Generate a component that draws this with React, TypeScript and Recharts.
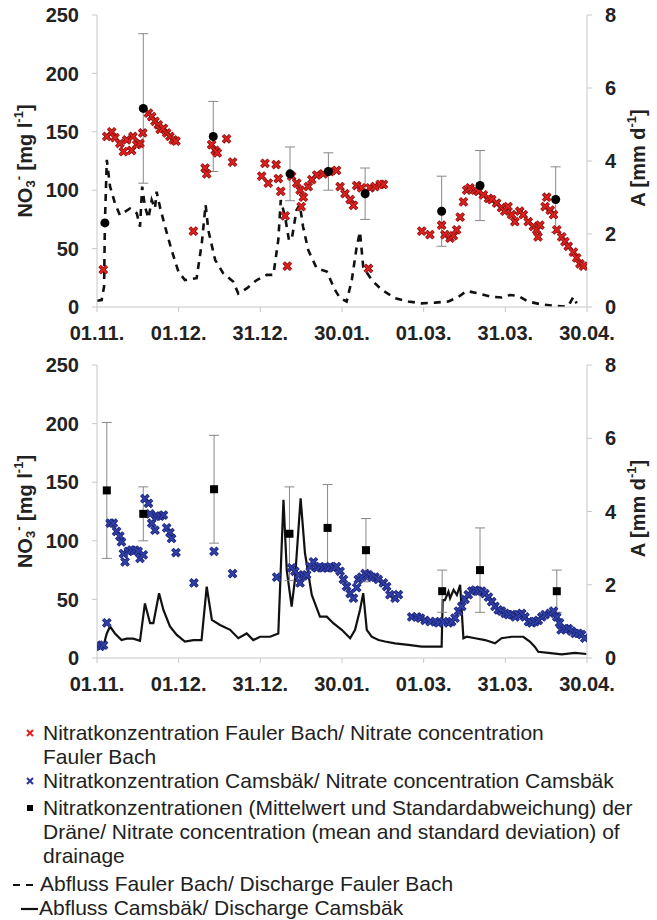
import React from 'react';
import { ComposedChart, Scatter, Line, XAxis, YAxis, ErrorBar } from 'recharts';

// x = days since 01.11.
const DAY_TICKS = [0, 30, 60, 90, 120, 150, 180];
const DATE_LABELS = ['01.11.', '01.12.', '31.12.', '30.01.', '01.03.', '31.03.', '30.04.'];
const NO3_TICKS = [0, 50, 100, 150, 200, 250];
const A_TICKS = [0, 2, 4, 6, 8];

// Fauler Bach: nitrate [day, mg/l]
const fbNitrate = [
  [2.3, 32], [3.6, 146], [5.4, 150], [6.6, 145], [8.4, 140], [9.7, 133], [10.9, 143], [12.7, 134], [13.2, 146],
  [14.6, 139], [15.8, 140], [16.8, 149], [18.9, 166], [20.1, 163], [21.3, 159], [22.5, 156], [23.2, 152],
  [24.4, 153], [25.6, 149], [26.8, 146], [28, 143], [29, 142], [35.4, 65], [39.7, 119], [40.3, 114],
  [42.1, 139], [43.4, 134], [44.2, 132], [47.6, 144], [49.8, 124], [60.5, 112], [61.7, 123], [62.9, 106],
  [65.8, 122], [66.6, 110], [67.5, 99], [69.1, 78], [69.9, 35], [71.5, 112], [73.4, 106], [74.6, 100],
  [75, 86], [75.8, 94], [77.6, 103], [78.9, 109], [80.7, 113], [83.1, 114], [85.6, 116], [88, 117],
  [89.3, 103], [91.1, 97], [93, 92], [94.2, 87], [95.4, 104], [97.2, 102], [99.7, 33], [100.3, 102],
  [102.1, 103], [104, 105], [105.2, 105], [119.3, 65], [122.3, 62], [126.6, 70], [127.8, 62], [129.7, 59],
  [130.9, 61], [132.1, 66], [133.4, 77], [134.6, 90], [135.8, 100], [137, 102], [138.9, 100], [140.1, 99],
  [141.9, 96], [143.8, 93], [145, 92], [146.8, 89], [148.6, 85], [149.8, 82], [151, 86], [152.3, 79],
  [153.5, 73], [155.3, 82], [156.6, 79], [158.4, 73], [160.3, 69], [161.5, 66], [162, 60], [162.7, 70],
  [164.6, 86], [165.2, 94], [166.5, 83], [167.7, 79], [168.9, 66], [170.7, 60], [171.9, 56], [173.1, 52],
  [175, 47], [176.2, 42], [177.4, 37], [178.7, 35],
];

// Fauler Bach: discharge [day, mm/d]
const fbDischarge = [
  [0, 0.17], [1.7, 0.19], [2.6, 0.56], [2.9, 2.3], [3.6, 4.03], [4.8, 3.3], [6.6, 2.84], [8.4, 2.52],
  [12.1, 2.7], [14.6, 2.57], [15.8, 2.2], [16.6, 3.3], [17.6, 2.75], [18.9, 2.43], [20.1, 2.93], [21.3, 2.7],
  [21.9, 3.16], [23.1, 2.75], [25, 2.2], [27.4, 1.56], [29.9, 0.97], [32.3, 0.74], [36.6, 0.79], [38.5, 1.75],
  [39.9, 2.8], [40.9, 2.1], [43.4, 1.29], [46.4, 0.92], [50.1, 0.69], [51.9, 0.37], [55, 0.51], [58.7, 0.74],
  [62.4, 0.88], [64.8, 0.88], [66.6, 1.84], [67.5, 2.93], [69.1, 2.47], [70.5, 1.84], [71.5, 1.84],
  [73.3, 2.66], [74.5, 2.8], [75.7, 2.2], [77.6, 1.56], [80.7, 1.06], [84.4, 0.97], [87.4, 0.47],
  [89.3, 0.24], [91.7, 0.15], [93.6, 0.74], [95.4, 1.65], [96.6, 2.06], [97.8, 1.1], [100.9, 0.74],
  [104.6, 0.47], [109.5, 0.24], [114.4, 0.15], [119.3, 0.1], [124.2, 0.12], [129.1, 0.15], [132.8, 0.28],
  [135.8, 0.44], [140.1, 0.37], [145, 0.28], [148.7, 0.26], [151.7, 0.33], [154.8, 0.3], [158.4, 0.15],
  [163.3, 0.07], [168.3, 0.03], [172, 0.01], [173.3, 0.05], [175, 0.28], [176.2, 0.1],
];

// drainage under Fauler Bach: day, mean, sd
const fbDrainDays = [2.9, 17, 42.7, 70.9, 85, 98.5, 126.6, 140.7, 168.5];
const fbDrainMean = [72, 170, 146, 114, 116, 97, 82, 104, 92];
const fbDrainSd = [0, 64, 30, 23, 16, 22, 30, 30, 28];

// Camsbäk: nitrate [day, mg/l]
const cbNitrate = [
  [0, 11], [1.2, 10], [2.4, 11], [3.6, 30], [4.8, 115], [6, 115], [7.2, 108], [8.4, 104], [9, 99], [9.7, 89],
  [10.3, 82], [11.5, 91], [12.7, 92], [13.9, 92], [15.1, 91], [15.8, 85], [17, 88], [17.6, 136], [18.9, 132],
  [19.5, 123], [20.1, 115], [21.3, 109], [21.9, 121], [23.1, 121], [24.4, 122], [25.6, 111], [26.8, 107],
  [27.4, 102], [29, 90], [35.6, 64], [43, 91], [49.8, 72], [66, 69], [71.5, 77], [72.7, 74], [74, 71],
  [74.6, 64], [75.8, 70], [77, 71], [78.3, 78], [79.5, 82], [80.7, 77], [81.9, 78], [83.1, 77], [84.4, 77],
  [85.6, 78], [86.8, 77], [88, 78], [89.3, 74], [90.5, 67], [91.7, 61], [93, 55], [94.2, 51], [95.4, 60],
  [96, 67], [97.2, 69], [98.5, 72], [99.7, 71], [100.9, 69], [102.1, 69], [103.3, 67], [105.2, 64],
  [106.4, 61], [107.6, 54], [109.5, 51], [110.7, 54], [115.6, 35], [117.5, 35], [118.8, 34], [120.5, 32],
  [122.4, 31], [124.2, 31], [125.4, 30], [127.3, 31], [129.1, 30], [130.3, 31], [131.5, 34], [132.8, 40],
  [134, 44], [135.2, 50], [136.4, 54], [137.7, 57], [138.9, 58], [140.1, 57], [141.3, 57], [142.5, 55],
  [143.8, 52], [145, 48], [146.2, 44], [147.4, 41], [148.6, 40], [149.9, 38], [151.1, 37], [152.3, 37],
  [153.6, 35], [154.8, 37], [156, 38], [157.2, 35], [158.5, 31], [159.7, 30], [160.9, 31], [162.1, 32],
  [163.4, 35], [164.6, 37], [166.4, 38], [167.7, 40], [168.9, 35], [169.9, 30], [170.5, 24], [171.9, 25],
  [173.1, 25], [174.3, 23], [175.6, 21], [176.8, 21], [178, 20], [179.2, 17],
];

// Camsbäk: discharge [day, mm/d]
const cbDischarge = [
  [0, 0.31], [2.3, 0.31], [3.6, 0.67], [4.8, 0.86], [6.6, 0.67], [9, 0.49], [10.9, 0.53], [13.3, 0.53],
  [15.8, 0.47], [17.6, 1.49], [19.5, 0.95], [20.7, 0.95], [22.8, 1.77], [24.4, 1.31], [26.8, 0.86],
  [29.3, 0.63], [32.3, 0.45], [35.4, 0.49], [38.4, 0.49], [40.3, 1.95], [42.2, 1.04], [45.2, 0.9],
  [48.9, 0.77], [51.9, 0.54], [55, 0.67], [57.4, 0.49], [59.9, 0.58], [63.6, 0.58], [66.6, 0.67],
  [68.5, 4.32], [69.7, 2.4], [71.5, 1.4], [72.7, 2.13], [74.8, 4.36], [76.4, 2.86], [78.9, 1.72],
  [81.9, 1.13], [84.4, 1.13], [86.8, 0.95], [89.9, 0.77], [93, 0.54], [94.8, 0.77], [96.6, 1.31],
  [97.8, 1.77], [99.1, 0.77], [100.9, 0.58], [103.4, 0.49], [105.8, 0.45], [109.5, 0.4], [114.4, 0.36],
  [119.3, 0.31], [124.2, 0.31], [126.6, 0.31], [127, 1.58], [127.8, 1.58], [129.1, 1.81], [129.7, 1.63],
  [131, 1.86], [132.2, 1.72], [133.4, 2.0], [134.6, 0.54], [135.8, 0.58], [138.9, 0.54], [142.6, 0.49],
  [146.2, 0.4], [148.6, 0.54], [152.3, 0.58], [156.6, 0.58], [159, 0.45], [160.8, 0.31], [162.1, 0.17],
  [165.8, 0.14], [170.7, 0.1], [175.6, 0.14], [179.8, 0.11],
];

// drainage under Camsbäk
const cbDrainDays = [3.6, 17, 43, 70.7, 84.7, 98.8, 126.8, 140.7, 168.9];
const cbDrainMean = [143, 123, 144, 106, 111, 92, 57, 75, 57];
const cbDrainSd = [58, 23, 46, 40, 37, 27, 18, 36, 18];

const FONT = '"Liberation Sans", Arial, sans-serif';
const AXIS_GRAY = '#c8c8c8';
const TEXT = '#222';

const tickStyle = { fontSize: 20, fontWeight: 700, fill: TEXT, fontFamily: FONT };

function XMark({ cx, cy, color, edge }: any) {
  if (cx == null || cy == null) return null;
  const s = 3.6;
  const d = `M${cx - s},${cy - s}L${cx + s},${cy + s}M${cx - s},${cy + s}L${cx + s},${cy - s}`;
  return (
    <g>
      <path d={d} stroke={edge} strokeWidth={3.6} fill="none" />
      <path d={d} stroke={color} strokeWidth={2} fill="none" />
    </g>
  );
}

function LeftTitle({ viewBox }: any) {
  const x = viewBox.x + 15;
  const y = viewBox.y + viewBox.height / 2;
  return (
    <text x={x} y={y} transform={`rotate(-90, ${x}, ${y})`} textAnchor="middle" dominantBaseline="central"
      fontFamily={FONT} fontSize={20} fontWeight={700} fill={TEXT}>
      NO<tspan fontSize={13} dy={5}>3</tspan><tspan fontSize={13} dy={-12}>-</tspan>
      <tspan dy={7}> [mg l</tspan><tspan fontSize={13} dy={-7}>-1</tspan><tspan dy={7}>]</tspan>
    </text>
  );
}

function RightTitle({ viewBox }: any) {
  const x = viewBox.x + 51;
  const y = viewBox.y + viewBox.height / 2 - 3;
  return (
    <text x={x} y={y} transform={`rotate(-90, ${x}, ${y})`} textAnchor="middle" dominantBaseline="central"
      fontFamily={FONT} fontSize={20} fontWeight={700} fill={TEXT}>
      A [mm d<tspan fontSize={13} dy={-7}>-1</tspan><tspan dy={7}>]</tspan>
    </text>
  );
}

function Panel({ nitrate, nitrateColor, nitrateEdge, discharge, dashed, drainDays, drainMean, drainSd, squares, height, bottom }: any) {
  const nData = nitrate.map(([day, v]: number[]) => ({ day, v }));
  const qData = discharge.map(([day, a]: number[]) => ({ day, a }));
  const dData = drainDays.map((day: number, i: number) => ({ day, v: drainMean[i], sd: drainSd[i] }));
  return (
    <ComposedChart width={657} height={height} margin={{ top: 15, right: 8, bottom, left: 10 }}>
      <XAxis type="number" dataKey="day" domain={[0, 180]} ticks={DAY_TICKS} interval={0} allowDataOverflow
        tickFormatter={(v) => DATE_LABELS[DAY_TICKS.indexOf(v)]} height={30}
        tick={tickStyle} tickSize={5} tickMargin={14} stroke={AXIS_GRAY} />
      <YAxis yAxisId="left" domain={[0, 250]} ticks={NO3_TICKS} width={87} allowDataOverflow
        tick={tickStyle} tickSize={5} tickMargin={13} stroke={AXIS_GRAY} label={<LeftTitle />} />
      <YAxis yAxisId="right" orientation="right" domain={[0, 8]} ticks={A_TICKS} width={62} allowDataOverflow
        tick={tickStyle} tickSize={5} tickMargin={13} stroke={AXIS_GRAY} label={<RightTitle />} />
      <Line yAxisId="right" data={qData} dataKey="a" type="linear" stroke="#111" strokeWidth={dashed ? 2.6 : 2.2}
        strokeDasharray={dashed ? '7 6' : undefined} dot={false} activeDot={false} isAnimationActive={false} />
      <Scatter yAxisId="left" data={nData} dataKey="v" isAnimationActive={false}
        shape={(p: any) => <XMark cx={p.cx} cy={p.cy} color={nitrateColor} edge={nitrateEdge} />} />
      <Scatter yAxisId="left" data={dData} dataKey="v" isAnimationActive={false}
        shape={(p: any) => squares
          ? <rect x={p.cx - 4} y={p.cy - 4} width={8} height={8} fill="#000" />
          : <circle cx={p.cx} cy={p.cy} r={4.5} fill="#000" />}>
        <ErrorBar dataKey="sd" direction="y" width={5} stroke="#888" strokeWidth={1} />
      </Scatter>
    </ComposedChart>
  );
}

function Mark({ kind }: { kind: string }) {
  if (kind === 'red' || kind === 'blue') {
    const c = kind === 'red' ? '#e0201c' : '#2b3595';
    return (
      <svg width="10" height="10" style={{ position: 'absolute', left: 25, top: 7 }}>
        <path d="M2,2L8,8M2,8L8,2" stroke={c} strokeWidth={2} />
      </svg>
    );
  }
  if (kind === 'square') {
    return <div style={{ position: 'absolute', left: 27, top: 9, width: 6, height: 6, background: '#000' }} />;
  }
  if (kind === 'dash') {
    return (
      <svg width="30" height="6" style={{ position: 'absolute', left: 12, top: 10 }}>
        <path d="M1,3H8M14,3H21" stroke="#111" strokeWidth={2} />
      </svg>
    );
  }
  return (
    <svg width="30" height="6" style={{ position: 'absolute', left: 12, top: 10 }}>
      <path d="M9,3H26" stroke="#111" strokeWidth={2.2} />
    </svg>
  );
}

const legendItems = [
  { kind: 'red', top: 721, left: 43, lines: ['Nitratkonzentration Fauler Bach/ Nitrate concentration', 'Fauler Bach'] },
  { kind: 'blue', top: 769, left: 43, lines: ['Nitratkonzentration Camsbäk/ Nitrate concentration Camsbäk'] },
  { kind: 'square', top: 796, left: 43, lines: ['Nitratkonzentrationen (Mittelwert und Standardabweichung) der', 'Dräne/ Nitrate concentration (mean and standard deviation) of', 'drainage'] },
  { kind: 'dash', top: 872, left: 40, lines: ['Abfluss Fauler Bach/ Discharge Fauler Bach'] },
  { kind: 'solid', top: 896, left: 39, lines: ['Abfluss Camsbäk/ Discharge Camsbäk'] },
];

export default function App() {
  return (
    <div style={{ position: 'absolute', left: 0, top: 0, width: 657, height: 920, background: '#fff', overflow: 'hidden' }}>
      <div style={{ position: 'absolute', left: 0, top: 0 }}>
        <Panel nitrate={fbNitrate} nitrateColor="#e0201c" nitrateEdge="#7a1010" discharge={fbDischarge} dashed
          drainDays={fbDrainDays} drainMean={fbDrainMean} drainSd={fbDrainSd} squares={false} height={349} bottom={12} />
      </div>
      <div style={{ position: 'absolute', left: 0, top: 350 }}>
        <Panel nitrate={cbNitrate} nitrateColor="#3040a8" nitrateEdge="#1a2070" discharge={cbDischarge} dashed={false}
          drainDays={cbDrainDays} drainMean={cbDrainMean} drainSd={cbDrainSd} squares height={350} bottom={12} />
      </div>
      {legendItems.map((it) => (
        <div key={it.kind} style={{ position: 'absolute', left: 0, top: it.top, width: 657, fontFamily: FONT, fontSize: 21, lineHeight: '24px', color: TEXT }}>
          <Mark kind={it.kind} />
          <div style={{ paddingLeft: it.left, whiteSpace: 'nowrap' }}>
            {it.lines.map((l) => <div key={l}>{l}</div>)}
          </div>
        </div>
      ))}
    </div>
  );
}
